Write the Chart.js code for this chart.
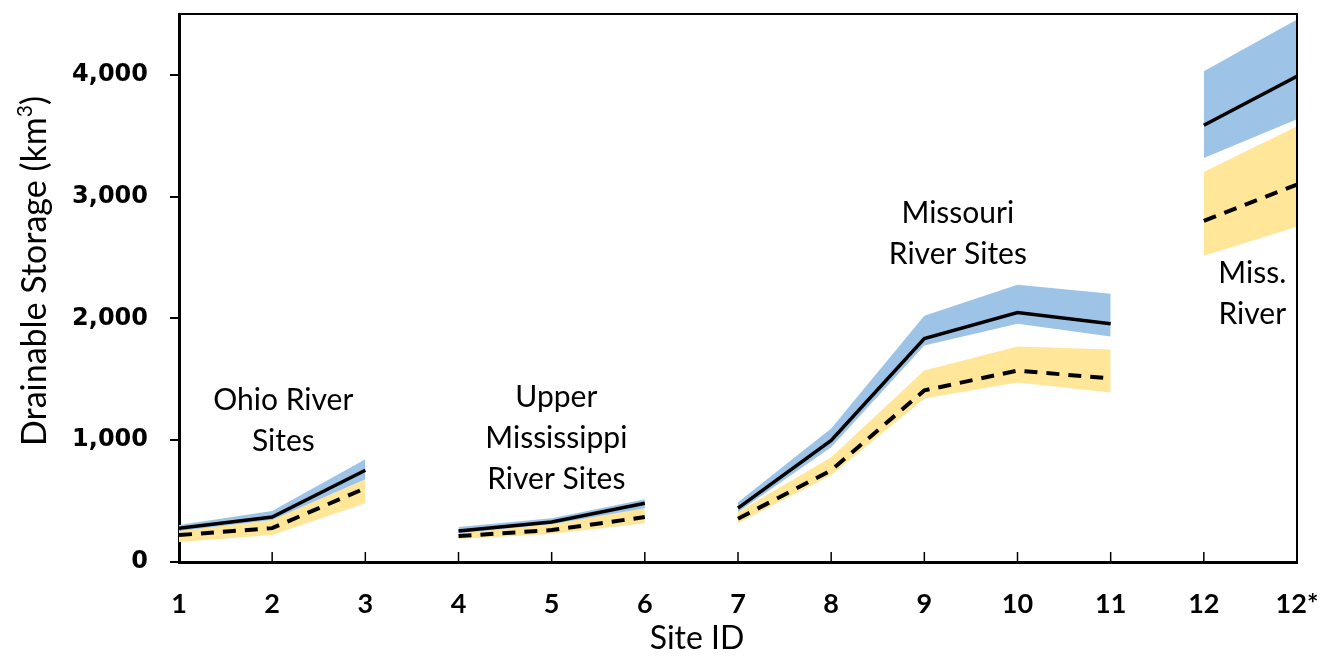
<!DOCTYPE html>
<html>
<head>
<meta charset="utf-8">
<script src="https://cdn.jsdelivr.net/npm/chart.js@4.4.1/dist/chart.umd.min.js"></script>
<style>
  html, body { margin: 0; padding: 0; background: #ffffff; }
  #wrap { width: 1325px; height: 658px; position: relative; }
</style>
</head>
<body>
<div id="wrap"><canvas id="chart"></canvas></div>
<script>
// Site identifiers along the x axis
const sites = ['1', '2', '3', '4', '5', '6', '7', '8', '9', '10', '11', '12', '12*'];
// River basin each site belongs to (lines break between basins)
const basins = ['Ohio', 'Ohio', 'Ohio',
                'Upper Mississippi', 'Upper Mississippi', 'Upper Mississippi',
                'Missouri', 'Missouri', 'Missouri', 'Missouri', 'Missouri',
                'Mississippi', 'Mississippi'];

// Drainable storage, km^3 — solid estimate with its blue range
const solidStorage = [278, 369, 753, 254, 328, 483, 442, 999, 1835, 2048, 1957, 3587, 3988];
const blueUpper    = [303, 418, 843, 287, 360, 516, 491, 1097, 2023, 2277, 2203, 4029, 4455];
const blueLower    = [254, 344, 680, 237, 311, 442, 410, 942, 1777, 1957, 1851, 3317, 3636];

// Dashed estimate with its yellow range
const dashedStorage = [221, 278, 606, 213, 262, 369, 355, 753, 1409, 1572, 1507, 2801, 3100];
const yellowUpper   = [254, 344, 680, 237, 311, 442, 410, 860, 1572, 1769, 1744, 3202, 3579];
const yellowLower   = [164, 221, 483, 188, 229, 319, 319, 712, 1343, 1474, 1392, 2514, 2752];

// Y axis tick values
const yTicks = [0, 1000, 2000, 3000, 4000];

// Basin labels placed in data units (site index, storage)
const basinNotes = [
  { lines: ['Ohio River', 'Sites'], site: 1.12, value: 1327 },
  { lines: ['Upper', 'Mississippi', 'River Sites'], site: 4.05, value: 1351 },
  { lines: ['Missouri', 'River Sites'], site: 8.36, value: 2866 },
  { lines: ['Miss.', 'River'], site: 11.52, value: 2367 }
];

// Turn a value list into {x, y} points with a break between basins
function toPoints(values) {
  const pts = [];
  values.forEach((v, i) => {
    if (i > 0 && basins[i] !== basins[i - 1]) pts.push({ x: i - 0.5, y: null });
    pts.push({ x: i, y: v });
  });
  return pts;
}

const BLUE = '#9dc3e6';
const YELLOW = '#ffe699';

const frameAndNotes = {
  id: 'frameAndNotes',
  afterDraw(chart) {
    const { ctx, chartArea, scales } = chart;
    const xs = scales.x, ys = scales.y;
    ctx.save();
    // top and right frame
    ctx.strokeStyle = '#000';
    ctx.lineWidth = 2;
    ctx.beginPath();
    ctx.moveTo(chartArea.left, chartArea.top);
    ctx.lineTo(chartArea.right, chartArea.top);
    ctx.lineTo(chartArea.right, chartArea.bottom);
    ctx.stroke();
    // inward x tick marks
    ctx.lineWidth = 1.5;
    xs.ticks.forEach((t, i) => {
      const px = xs.getPixelForTick(i);
      ctx.beginPath();
      ctx.moveTo(px, chartArea.bottom);
      ctx.lineTo(px, chartArea.bottom - 10);
      ctx.stroke();
    });
    // basin labels
    ctx.fillStyle = '#000';
    ctx.font = '30px Lato';
    ctx.textAlign = 'center';
    ctx.textBaseline = 'middle';
    basinNotes.forEach(n => {
      const px = xs.getPixelForValue(n.site);
      const py = ys.getPixelForValue(n.value);
      n.lines.forEach((line, k) => ctx.fillText(line, px, py + k * 41));
    });
    // x axis title
    ctx.font = '32px Lato';
    ctx.fillText('Site ID', 697, 639);
    // y axis title with superscript
    const main = 'Drainable Storage (km';
    const sup = '3';
    const tail = ')';
    ctx.font = '34px Lato';
    const wMain = ctx.measureText(main).width;
    const wTail = ctx.measureText(tail).width;
    ctx.font = '21px Lato';
    const wSup = ctx.measureText(sup).width;
    const total = wMain + wSup + wTail;
    ctx.translate(35, 271);
    ctx.rotate(-Math.PI / 2);
    ctx.textAlign = 'left';
    let cx = -total / 2;
    ctx.font = '34px Lato';
    ctx.fillText(main, cx, 0);
    cx += wMain;
    ctx.font = '21px Lato';
    ctx.fillText(sup, cx, -10);
    cx += wSup;
    ctx.font = '34px Lato';
    ctx.fillText(tail, cx, 0);
    ctx.restore();
  }
};

const lineBase = { pointRadius: 0, pointHoverRadius: 0, tension: 0, spanGaps: false };

new Chart(document.getElementById('chart'), {
  type: 'line',
  data: {
    datasets: [
      { ...lineBase, label: 'Solid estimate', data: toPoints(solidStorage),
        borderColor: '#000', borderWidth: 3.5, fill: false, order: 0 },
      { ...lineBase, label: 'Dashed estimate', data: toPoints(dashedStorage),
        borderColor: '#000', borderWidth: 4, borderDash: [13, 9], fill: false, order: 0 },
      { ...lineBase, label: 'Blue upper', data: toPoints(blueUpper),
        borderWidth: 0, borderColor: 'rgba(0,0,0,0)', backgroundColor: BLUE, fill: '+1', order: 1 },
      { ...lineBase, label: 'Blue lower', data: toPoints(blueLower),
        borderWidth: 0, borderColor: 'rgba(0,0,0,0)', fill: false, order: 1 },
      { ...lineBase, label: 'Yellow upper', data: toPoints(yellowUpper),
        borderWidth: 0, borderColor: 'rgba(0,0,0,0)', backgroundColor: YELLOW, fill: '+1', order: 1 },
      { ...lineBase, label: 'Yellow lower', data: toPoints(yellowLower),
        borderWidth: 0, borderColor: 'rgba(0,0,0,0)', fill: false, order: 1 }
    ]
  },
  options: {
    responsive: true,
    maintainAspectRatio: false,
    animation: false,
    layout: { padding: { top: 14, right: 28, left: 0, bottom: 0 } },
    plugins: {
      legend: { display: false },
      tooltip: { enabled: false },
      filler: { propagate: false }
    },
    scales: {
      x: {
        type: 'linear',
        min: 0,
        max: sites.length - 1,
        afterBuildTicks: s => { s.ticks = sites.map((_, i) => ({ value: i })); },
        afterFit: s => { s.height = 96; s.paddingLeft = 0; s.paddingRight = 0; },
        ticks: {
          autoSkip: false,
          maxRotation: 0,
          padding: 26,
          color: '#000',
          font: { family: 'Lato', size: 27, weight: 'bold' },
          callback: v => sites[v]
        },
        grid: { drawOnChartArea: false, drawTicks: false },
        border: { display: true, color: '#000', width: 3 },
        title: { display: false }
      },
      y: {
        min: 0,
        max: 4500,
        afterBuildTicks: s => { s.ticks = yTicks.map(v => ({ value: v })); },
        afterFit: s => { s.width = 179; s.paddingTop = 0; s.paddingBottom = 0; },
        ticks: {
          padding: 22,
          color: '#000',
          font: { family: 'DejaVu Sans', size: 24, weight: 'bold' },
          callback: v => v.toLocaleString('en-US')
        },
        grid: { drawOnChartArea: false, drawTicks: true, tickLength: 9, color: '#000', lineWidth: 2 },
        border: { display: true, color: '#000', width: 3 }
      }
    }
  },
  plugins: [frameAndNotes]
});
</script>
</body>
</html>
